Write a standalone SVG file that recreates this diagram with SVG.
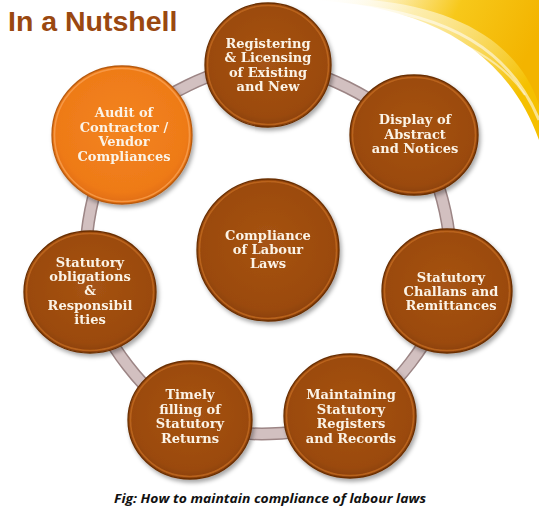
<svg xmlns="http://www.w3.org/2000/svg" width="539" height="519" viewBox="0 0 539 519">
<defs>
<radialGradient id="brown" cx="50%" cy="45%" r="55%">
<stop offset="0" stop-color="#a65313"/>
<stop offset="0.85" stop-color="#9b4a0c"/>
<stop offset="1" stop-color="#8a3f08"/>
</radialGradient>
<radialGradient id="orange" cx="50%" cy="45%" r="55%">
<stop offset="0" stop-color="#f3841f"/>
<stop offset="0.85" stop-color="#ee7a18"/>
<stop offset="1" stop-color="#e06c10"/>
</radialGradient>
<linearGradient id="sky" x1="0" y1="0" x2="1" y2="0.5">
<stop offset="0" stop-color="#ffffff" stop-opacity="0"/>
<stop offset="0.4" stop-color="#fbe27a" stop-opacity="0.6"/>
<stop offset="1" stop-color="#f5c000"/>
</linearGradient>
<linearGradient id="sky2" x1="0" y1="0" x2="1" y2="0.3">
<stop offset="0" stop-color="#fde58a" stop-opacity="0.2"/>
<stop offset="0.5" stop-color="#f7c81a"/>
<stop offset="1" stop-color="#f3b400"/>
</linearGradient>
<filter id="sh" x="-20%" y="-20%" width="140%" height="140%">
<feDropShadow dx="2" dy="3" stdDeviation="2" flood-color="#000" flood-opacity="0.35"/>
</filter>
</defs>
<style>
.node{filter:url(#sh)}
.b{fill:url(#brown);stroke:#6a2f05;stroke-width:1.3}
.o{fill:url(#orange);stroke:#b85a0e;stroke-width:1.3}
.hl{fill:none;stroke:#c26a22;stroke-width:1.6;opacity:0.8}
.hlo{fill:none;stroke:#f9a050;stroke-width:1.6;opacity:0.8}
.t{font-family:"DejaVu Serif","Liberation Serif",serif;font-weight:bold;font-size:13px;fill:#fbf3e6;text-anchor:middle}
.ring1{fill:none;stroke:#9c8585;stroke-width:13}
.ring2{fill:none;stroke:#d2c0c0;stroke-width:10}
</style>
<rect width="539" height="519" fill="#ffffff"/>
<g id="background">
<path d="M310 0 C420 5 505 45 539 140 L539 0 Z" fill="url(#sky)"/>
<path d="M370 0 C460 8 520 45 539 105 L539 0 Z" fill="url(#sky2)"/>
<path d="M350 5 C450 15 510 50 539 120" fill="none" stroke="#ffffff" stroke-width="3" opacity="0.55"/>
<path d="M330 14 C430 22 495 50 525 95" fill="none" stroke="#ffffff" stroke-width="2" opacity="0.5"/>
</g>
<text x="8" y="31" font-family="Liberation Sans, Arial, sans-serif" font-weight="bold" font-size="28.5" fill="#9a4810">In a Nutshell</text>
<g id="connectors">
<path class="ring1" d="M268 65 C316.5 66 383.2 100 413 136 C442.8 176 457.5 245.2 447 291 C436.5 336.8 392.8 394.5 350 416 C307.2 437.5 233.3 440.7 190 420 C146.7 399.3 101.3 339.5 90 292 C78.7 244.5 92.3 172.8 122 135 C151.7 97.2 219.5 64 268 65 Z"/>
<path class="ring2" d="M268 65 C316.5 66 383.2 100 413 136 C442.8 176 457.5 245.2 447 291 C436.5 336.8 392.8 394.5 350 416 C307.2 437.5 233.3 440.7 190 420 C146.7 399.3 101.3 339.5 90 292 C78.7 244.5 92.3 172.8 122 135 C151.7 97.2 219.5 64 268 65 Z"/>
</g>
<g id="node-registering" class="node">
<ellipse class="b" cx="268" cy="65" rx="63" ry="62"/>
<ellipse class="hl" cx="268" cy="65" rx="60.5" ry="59.5"/>
<text class="t"><tspan x="268" y="48">Registering</tspan><tspan x="268" y="62">&amp; Licensing</tspan><tspan x="268" y="77">of Existing</tspan><tspan x="268" y="91">and New</tspan></text>
</g>
<g id="node-display" class="node">
<ellipse class="b" cx="414" cy="135" rx="64" ry="60"/>
<ellipse class="hl" cx="414" cy="135" rx="61.5" ry="57.5"/>
<text class="t"><tspan x="415" y="124">Display of</tspan><tspan x="415" y="139">Abstract</tspan><tspan x="415" y="153">and Notices</tspan></text>
</g>
<g id="node-challans" class="node">
<ellipse class="b" cx="447" cy="291" rx="65" ry="62"/>
<ellipse class="hl" cx="447" cy="291" rx="62.5" ry="59.5"/>
<text class="t"><tspan x="451" y="282">Statutory</tspan><tspan x="451" y="296">Challans and</tspan><tspan x="451" y="310">Remittances</tspan></text>
</g>
<g id="node-maintaining" class="node">
<ellipse class="b" cx="350" cy="416" rx="66" ry="62"/>
<ellipse class="hl" cx="350" cy="416" rx="63.5" ry="59.5"/>
<text class="t"><tspan x="351" y="399">Maintaining</tspan><tspan x="351" y="414">Statutory</tspan><tspan x="351" y="428">Registers</tspan><tspan x="351" y="443">and Records</tspan></text>
</g>
<g id="node-timely" class="node">
<ellipse class="b" cx="190" cy="420" rx="62" ry="59"/>
<ellipse class="hl" cx="190" cy="420" rx="59.5" ry="56.5"/>
<text class="t"><tspan x="190" y="399">Timely</tspan><tspan x="190" y="414">filling of</tspan><tspan x="190" y="428">Statutory</tspan><tspan x="190" y="443">Returns</tspan></text>
</g>
<g id="node-obligations" class="node">
<ellipse class="b" cx="90" cy="292" rx="66" ry="61"/>
<ellipse class="hl" cx="90" cy="292" rx="63.5" ry="58.5"/>
<text class="t"><tspan x="90" y="267">Statutory</tspan><tspan x="90" y="281">obligations</tspan><tspan x="90" y="295">&amp;</tspan><tspan x="90" y="310">Responsibil</tspan><tspan x="90" y="324">ities</tspan></text>
</g>
<g id="node-audit" class="node">
<ellipse class="o" cx="122" cy="135" rx="70" ry="69"/>
<ellipse class="hlo" cx="122" cy="135" rx="67.5" ry="66.5"/>
<text class="t"><tspan x="124" y="117">Audit of</tspan><tspan x="124" y="132">Contractor /</tspan><tspan x="124" y="146">Vendor</tspan><tspan x="124" y="161">Compliances</tspan></text>
</g>
<g id="node-center" class="node">
<ellipse class="b" cx="268" cy="250" rx="71" ry="71"/>
<ellipse class="hl" cx="268" cy="250" rx="68.5" ry="68.5"/>
<text class="t"><tspan x="268" y="240">Compliance</tspan><tspan x="268" y="254">of Labour</tspan><tspan x="268" y="268">Laws</tspan></text>
</g>
<text x="270" y="503" font-family="Open Sans, Liberation Sans, sans-serif" font-weight="bold" font-style="italic" font-size="12.5" fill="#111" text-anchor="middle" textLength="312" lengthAdjust="spacingAndGlyphs">Fig: How to maintain compliance of labour laws</text>
</svg>
